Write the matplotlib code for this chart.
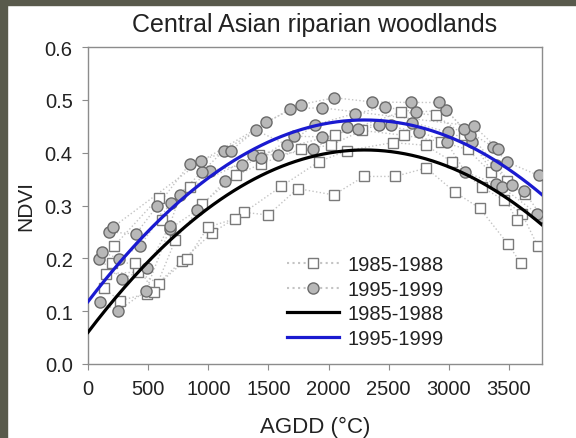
import numpy as np
import matplotlib
matplotlib.use("Agg")
import matplotlib.pyplot as plt
from matplotlib.lines import Line2D
from matplotlib.patches import Rectangle

plt.rcParams['font.family'] = ['Liberation Sans', 'DejaVu Sans']

# 1985-1988 observations (squares), one list per year
sq_a_x = [131, 266, 489, 780, 1030, 1300, 1498, 1743, 2043, 2294, 2554, 2813, 3052, 3257, 3492, 3599]
sq_a_y = [0.143, 0.120, 0.133, 0.195, 0.248, 0.287, 0.282, 0.332, 0.320, 0.355, 0.355, 0.371, 0.325, 0.295, 0.227, 0.191]
sq_b_x = [153, 413, 587, 826, 997, 1223, 1606, 1920, 2156, 2532, 2807, 3028, 3272, 3462, 3609, 3740]
sq_b_y = [0.171, 0.174, 0.152, 0.199, 0.259, 0.275, 0.336, 0.383, 0.404, 0.419, 0.414, 0.383, 0.335, 0.310, 0.284, 0.223]
sq_c_x = [199, 391, 550, 725, 948, 1232, 1437, 1774, 2018, 2278, 2624, 2936, 3156, 3349, 3563]
sq_c_y = [0.191, 0.191, 0.137, 0.234, 0.303, 0.357, 0.379, 0.407, 0.414, 0.442, 0.433, 0.421, 0.406, 0.363, 0.273]
sq_d_x = [220, 587, 612, 850, 1420, 2055, 2606, 2890, 3125, 3486, 3630]
sq_d_y = [0.224, 0.315, 0.272, 0.335, 0.396, 0.434, 0.477, 0.471, 0.434, 0.347, 0.321]

# 1995-1999 observations (circles)
ci_a_x = [98, 251, 480, 679, 908, 1138, 1376, 1584, 1872, 2156, 2416, 2752, 2982, 3138, 3394, 3624, 3777]
ci_a_y = [0.117, 0.101, 0.138, 0.256, 0.291, 0.346, 0.396, 0.396, 0.406, 0.449, 0.453, 0.440, 0.420, 0.363, 0.341, 0.327, 0.278]
ci_b_x = [92, 284, 489, 679, 765, 1015, 1284, 1437, 1713, 1948, 2248, 2523, 2697, 2991, 3196, 3440, 3737]
ci_b_y = [0.199, 0.161, 0.181, 0.262, 0.319, 0.366, 0.376, 0.390, 0.431, 0.430, 0.445, 0.453, 0.457, 0.439, 0.421, 0.335, 0.284]
ci_c_x = [116, 260, 434, 688, 948, 1131, 1401, 1651, 1890, 2217, 2471, 2731, 2976, 3174, 3394, 3523]
ci_c_y = [0.212, 0.199, 0.224, 0.305, 0.364, 0.404, 0.442, 0.415, 0.453, 0.474, 0.486, 0.477, 0.480, 0.434, 0.376, 0.339]
ci_d_x = [177, 398, 575, 847, 1187, 1483, 1768, 2049, 2361, 2685, 2920, 3125, 3370, 3486, 3746]
ci_d_y = [0.250, 0.246, 0.299, 0.379, 0.404, 0.458, 0.491, 0.504, 0.496, 0.495, 0.495, 0.445, 0.411, 0.382, 0.357]
ci_e_x = [208, 942, 1682, 1942, 3211, 3410]
ci_e_y = [0.259, 0.384, 0.483, 0.485, 0.450, 0.407]

# quadratic fits (coefficients, highest power first)
fit_8588 = [-6.52e-8, 3.0e-4, 0.060]
fit_9599 = [-6.50e-8, 2.99e-4, 0.118]

squares = [(sq_a_x, sq_a_y), (sq_b_x, sq_b_y), (sq_c_x, sq_c_y), (sq_d_x, sq_d_y)]
circles = [(ci_a_x, ci_a_y), (ci_b_x, ci_b_y), (ci_c_x, ci_c_y), (ci_d_x, ci_d_y), (ci_e_x, ci_e_y)]

fig = plt.figure(figsize=(5.76, 4.39), dpi=100)
# slide background strips
fig.patches.append(Rectangle((0, 0), 7 / 576, 1, transform=fig.transFigure, color='#595a4c', zorder=0))
fig.patches.append(Rectangle((0, 1 - 6 / 439), 1, 6 / 439, transform=fig.transFigure, color='#595a4c', zorder=0))

ax = fig.add_axes([88 / 576, 1 - 365 / 439, 454 / 576, 317 / 439])

dot_style = dict(color='#c4c4c4', linestyle=':', linewidth=1.0, zorder=1)
for xs, ys in squares:
    ax.plot(xs, ys, **dot_style)
for xs, ys in circles:
    ax.plot(xs, ys, **dot_style)
for xs, ys in squares:
    ax.plot(xs, ys, linestyle='none', marker='s', markersize=7.5, markerfacecolor='white',
            markeredgecolor='#7a7a7a', markeredgewidth=1.0, zorder=2)
for xs, ys in circles:
    ax.plot(xs, ys, linestyle='none', marker='o', markersize=8, markerfacecolor='#b8b8b8',
            markeredgecolor='#6a6a6a', markeredgewidth=1.0, zorder=3)

xx = np.linspace(0, 3775, 200)
ax.plot(xx, np.polyval(fit_8588, xx), color='black', linewidth=2.3, zorder=4)
ax.plot(xx, np.polyval(fit_9599, xx), color='#1a1ad0', linewidth=2.3, zorder=5)

ax.set_xlim(0, 3775)
ax.set_ylim(0, 0.6)
ax.set_xticks(np.arange(0, 3501, 500))
ax.set_yticks(np.arange(0, 0.61, 0.1))
ax.set_yticklabels(['%.1f' % v for v in np.arange(0, 0.61, 0.1)])
for s in ax.spines.values():
    s.set_color('#8c8c8c')
    s.set_linewidth(1.0)
ax.tick_params(direction='out', length=4, color='#8c8c8c', labelsize=14.5, labelcolor='#222222', pad=7)
ax.set_xlabel('AGDD (°C)', fontsize=16, color='#222222', labelpad=13)
ax.set_ylabel('NDVI', fontsize=15, color='#222222', labelpad=7)
ax.set_title('Central Asian riparian woodlands', fontsize=18, color='#222222', pad=11.5)

handles = [
    Line2D([], [], color='#c4c4c4', linestyle=':', marker='s', markersize=7,
           markerfacecolor='white', markeredgecolor='#7a7a7a'),
    Line2D([], [], color='#c4c4c4', linestyle=':', marker='o', markersize=8,
           markerfacecolor='#b8b8b8', markeredgecolor='#6a6a6a'),
    Line2D([], [], color='black', linewidth=2.3),
    Line2D([], [], color='#1a1ad0', linewidth=2.3),
]
labels = ['1985-1988', '1995-1999', '1985-1988', '1995-1999']
ax.legend(handles, labels, loc='lower left', bbox_to_anchor=(0.42, 0.025), frameon=False,
          fontsize=14.5, handlelength=2.6, labelspacing=0.28, handletextpad=0.4,
          labelcolor='#222222', borderaxespad=0)

fig.savefig('out.png', dpi=100)
